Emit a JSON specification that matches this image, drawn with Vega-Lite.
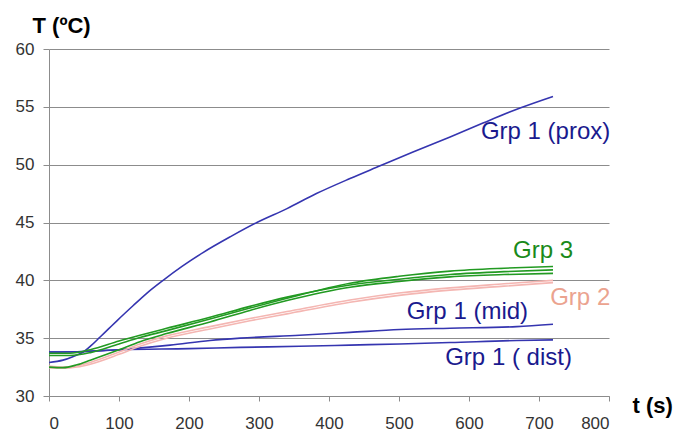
{
  "$schema": "https://vega.github.io/schema/vega-lite/v6.json",
  "autosize": "none",
  "width": 560,
  "height": 347,
  "padding": {"left": 49, "top": 49, "right": 68, "bottom": 36},
  "background": "white",
  "view": {"stroke": null},
  "config": {
    "font": "Liberation Sans",
    "axis": {
      "labelFont": "Liberation Sans",
      "labelFontSize": 17,
      "labelColor": "#333333",
      "domainColor": "#8c8c8c",
      "tickColor": "#8c8c8c",
      "gridColor": "#8c8c8c",
      "titleFont": "Liberation Sans",
      "titleFontSize": 22,
      "titleFontWeight": "bold",
      "titleColor": "#000000"
    }
  },
  "layer": [
    {
      "data": {
        "values": [
          {"s": "prox", "t": 0, "T": 32.9}, {"s": "prox", "t": 20, "T": 33.1}, {"s": "prox", "t": 34, "T": 33.4}, {"s": "prox", "t": 50, "T": 33.85}, {"s": "prox", "t": 60, "T": 34.35}, {"s": "prox", "t": 73, "T": 35.1}, {"s": "prox", "t": 85, "T": 35.8}, {"s": "prox", "t": 97, "T": 36.5}, {"s": "prox", "t": 120, "T": 37.8}, {"s": "prox", "t": 140, "T": 38.9}, {"s": "prox", "t": 163, "T": 40.0}, {"s": "prox", "t": 190, "T": 41.2}, {"s": "prox", "t": 220, "T": 42.4}, {"s": "prox", "t": 260, "T": 43.8}, {"s": "prox", "t": 297, "T": 45.0}, {"s": "prox", "t": 340, "T": 46.2}, {"s": "prox", "t": 382, "T": 47.5}, {"s": "prox", "t": 430, "T": 48.8}, {"s": "prox", "t": 473, "T": 49.9}, {"s": "prox", "t": 520, "T": 51.1}, {"s": "prox", "t": 573, "T": 52.4}, {"s": "prox", "t": 620, "T": 53.6}, {"s": "prox", "t": 673, "T": 54.9}, {"s": "prox", "t": 720, "T": 55.9},

          {"s": "mid", "t": 0, "T": 33.8}, {"s": "mid", "t": 50, "T": 33.85}, {"s": "mid", "t": 100, "T": 34.0}, {"s": "mid", "t": 173, "T": 34.4}, {"s": "mid", "t": 230, "T": 34.8}, {"s": "mid", "t": 273, "T": 35.0}, {"s": "mid", "t": 358, "T": 35.25}, {"s": "mid", "t": 430, "T": 35.5}, {"s": "mid", "t": 501, "T": 35.75}, {"s": "mid", "t": 573, "T": 35.86}, {"s": "mid", "t": 668, "T": 36.0}, {"s": "mid", "t": 720, "T": 36.2},

          {"s": "dist", "t": 0, "T": 33.8}, {"s": "dist", "t": 50, "T": 33.85}, {"s": "dist", "t": 100, "T": 34.0}, {"s": "dist", "t": 200, "T": 34.1}, {"s": "dist", "t": 273, "T": 34.2}, {"s": "dist", "t": 358, "T": 34.3}, {"s": "dist", "t": 430, "T": 34.4}, {"s": "dist", "t": 501, "T": 34.5}, {"s": "dist", "t": 573, "T": 34.62}, {"s": "dist", "t": 668, "T": 34.8}, {"s": "dist", "t": 720, "T": 34.85},

          {"s": "g2a", "t": 0, "T": 32.6}, {"s": "g2a", "t": 20, "T": 32.5}, {"s": "g2a", "t": 40, "T": 32.6}, {"s": "g2a", "t": 59, "T": 32.9}, {"s": "g2a", "t": 100, "T": 33.8}, {"s": "g2a", "t": 130, "T": 34.5}, {"s": "g2a", "t": 168, "T": 35.2}, {"s": "g2a", "t": 230, "T": 36.0}, {"s": "g2a", "t": 287, "T": 36.7}, {"s": "g2a", "t": 340, "T": 37.3}, {"s": "g2a", "t": 430, "T": 38.3}, {"s": "g2a", "t": 500, "T": 38.9}, {"s": "g2a", "t": 573, "T": 39.35}, {"s": "g2a", "t": 650, "T": 39.7}, {"s": "g2a", "t": 720, "T": 40.0},

          {"s": "g2b", "t": 0, "T": 32.45}, {"s": "g2b", "t": 20, "T": 32.4}, {"s": "g2b", "t": 40, "T": 32.5}, {"s": "g2b", "t": 59, "T": 32.75}, {"s": "g2b", "t": 100, "T": 33.6}, {"s": "g2b", "t": 130, "T": 34.3}, {"s": "g2b", "t": 168, "T": 35.0}, {"s": "g2b", "t": 230, "T": 35.8}, {"s": "g2b", "t": 287, "T": 36.5}, {"s": "g2b", "t": 340, "T": 37.1}, {"s": "g2b", "t": 430, "T": 38.1}, {"s": "g2b", "t": 500, "T": 38.7}, {"s": "g2b", "t": 573, "T": 39.15}, {"s": "g2b", "t": 650, "T": 39.5}, {"s": "g2b", "t": 720, "T": 39.8},

          {"s": "g3a", "t": 0, "T": 33.7}, {"s": "g3a", "t": 30, "T": 33.7}, {"s": "g3a", "t": 59, "T": 34.0}, {"s": "g3a", "t": 100, "T": 34.75}, {"s": "g3a", "t": 130, "T": 35.25}, {"s": "g3a", "t": 168, "T": 35.85}, {"s": "g3a", "t": 230, "T": 36.8}, {"s": "g3a", "t": 287, "T": 37.75}, {"s": "g3a", "t": 340, "T": 38.55}, {"s": "g3a", "t": 430, "T": 39.6}, {"s": "g3a", "t": 500, "T": 40.1}, {"s": "g3a", "t": 573, "T": 40.5}, {"s": "g3a", "t": 650, "T": 40.75}, {"s": "g3a", "t": 720, "T": 40.9},

          {"s": "g3b", "t": 0, "T": 33.5}, {"s": "g3b", "t": 30, "T": 33.5}, {"s": "g3b", "t": 59, "T": 33.75}, {"s": "g3b", "t": 100, "T": 34.5}, {"s": "g3b", "t": 130, "T": 35.05}, {"s": "g3b", "t": 168, "T": 35.65}, {"s": "g3b", "t": 230, "T": 36.65}, {"s": "g3b", "t": 287, "T": 37.6}, {"s": "g3b", "t": 340, "T": 38.45}, {"s": "g3b", "t": 430, "T": 39.75}, {"s": "g3b", "t": 500, "T": 40.35}, {"s": "g3b", "t": 573, "T": 40.8}, {"s": "g3b", "t": 650, "T": 41.05}, {"s": "g3b", "t": 720, "T": 41.2},

          {"s": "g3c", "t": 0, "T": 32.5}, {"s": "g3c", "t": 20, "T": 32.45}, {"s": "g3c", "t": 40, "T": 32.7}, {"s": "g3c", "t": 59, "T": 33.1}, {"s": "g3c", "t": 100, "T": 34.0}, {"s": "g3c", "t": 130, "T": 34.7}, {"s": "g3c", "t": 168, "T": 35.4}, {"s": "g3c", "t": 230, "T": 36.4}, {"s": "g3c", "t": 287, "T": 37.4}, {"s": "g3c", "t": 340, "T": 38.25}, {"s": "g3c", "t": 430, "T": 39.4}, {"s": "g3c", "t": 500, "T": 39.9}, {"s": "g3c", "t": 573, "T": 40.3}, {"s": "g3c", "t": 650, "T": 40.5}, {"s": "g3c", "t": 720, "T": 40.6}
        ]
      },
      "mark": {"type": "line", "strokeWidth": 1.6, "interpolate": "monotone"},
      "encoding": {
        "x": {
          "field": "t", "type": "quantitative",
          "scale": {"domain": [0, 800], "nice": false},
          "axis": {
            "values": [0, 100, 200, 300, 400, 500, 600, 700, 800],
            "grid": false, "tickSize": 5, "labelPadding": 14,
            "title": "t (s)", "titleAngle": 0, "titleX": 583, "titleY": 16,
            "titleAlign": "left", "titleBaseline": "alphabetic"
          }
        },
        "y": {
          "field": "T", "type": "quantitative",
          "scale": {"domain": [30, 60], "nice": false},
          "axis": {
            "values": [30, 35, 40, 45, 50, 55, 60],
            "grid": true, "tickSize": 6, "labelPadding": 9,
            "title": "T (ºC)", "titleAngle": 0, "titleX": -17, "titleY": -17,
            "titleAlign": "left", "titleBaseline": "alphabetic"
          }
        },
        "detail": {"field": "s", "type": "nominal"},
        "color": {
          "field": "s", "type": "nominal", "legend": null,
          "scale": {
            "domain": ["prox", "mid", "dist", "g2a", "g2b", "g3a", "g3b", "g3c"],
            "range": ["#3535b0", "#3535b0", "#3535b0", "#f4b6b2", "#f4b6b2", "#229a22", "#229a22", "#229a22"]
          }
        },
        "order": {"field": "t", "type": "quantitative"}
      }
    },
    {
      "data": {"values": [
        {"label": "Grp 1 (prox)", "t": 617, "T": 52.8},
        {"label": "Grp 1 (mid)", "t": 511, "T": 37.3},
        {"label": "Grp 1 ( dist)", "t": 566, "T": 33.3}
      ]},
      "mark": {"type": "text", "align": "left", "baseline": "middle", "font": "Liberation Sans", "fontSize": 24, "color": "#1a1a8e"},
      "encoding": {
        "x": {"field": "t", "type": "quantitative"},
        "y": {"field": "T", "type": "quantitative"},
        "text": {"field": "label"}
      }
    },
    {
      "data": {"values": [{"label": "Grp 3", "t": 663, "T": 42.56}]},
      "mark": {"type": "text", "align": "left", "baseline": "middle", "font": "Liberation Sans", "fontSize": 24, "color": "#1a8a1a"},
      "encoding": {
        "x": {"field": "t", "type": "quantitative"},
        "y": {"field": "T", "type": "quantitative"},
        "text": {"field": "label"}
      }
    },
    {
      "data": {"values": [{"label": "Grp 2", "t": 716, "T": 38.5}]},
      "mark": {"type": "text", "align": "left", "baseline": "middle", "font": "Liberation Sans", "fontSize": 24, "color": "#eba38f"},
      "encoding": {
        "x": {"field": "t", "type": "quantitative"},
        "y": {"field": "T", "type": "quantitative"},
        "text": {"field": "label"}
      }
    }
  ]
}
